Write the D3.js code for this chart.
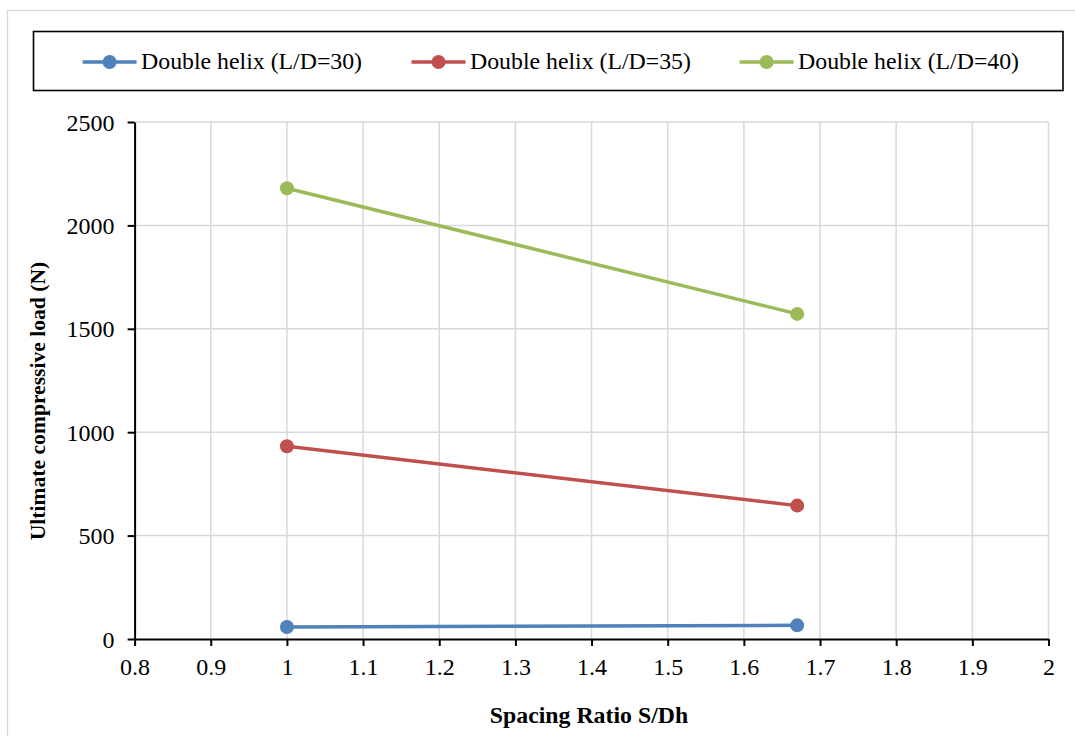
<!DOCTYPE html>
<html><head><meta charset="utf-8">
<script src="https://cdn.jsdelivr.net/npm/d3@7"></script>
<style>body{margin:0;background:#fff}svg{display:block}text{font-family:"Liberation Serif","Times New Roman",serif;fill:#000}</style>
</head><body>
<script>
const xValues = [1, 1.67];
const seriesNames = ["Double helix (L/D=30)", "Double helix (L/D=35)", "Double helix (L/D=40)"];
const seriesColors = ["#4F81BD", "#C0504D", "#9BBB59"];
const ld30 = [58, 66];
const ld35 = [932, 645];
const ld40 = [2180, 1572];
const xTicks = [0.8, 0.9, 1, 1.1, 1.2, 1.3, 1.4, 1.5, 1.6, 1.7, 1.8, 1.9, 2];
const yTicks = [0, 500, 1000, 1500, 2000, 2500];
const seriesValues = [ld30, ld35, ld40];

const W = 1075, H = 736;
const svg = d3.select("body").append("svg").attr("width", W).attr("height", H);
svg.append("rect").attr("x", 7.5).attr("y", 10.5).attr("width", W + 10).attr("height", H + 10)
  .attr("fill", "#fff").attr("stroke", "#d9d9d9").attr("stroke-width", 1.3);

const L = 134.6, R = 1048.5, T = 122, B = 639;
const x = d3.scaleLinear().domain([0.8, 2]).range([L, R]);
const y = d3.scaleLinear().domain([0, 2500]).range([B, T]);

// gridlines
const g = svg.append("g");
g.selectAll(".vg").data(xTicks.slice(1)).enter().append("line")
  .attr("x1", d => x(d)).attr("x2", d => x(d)).attr("y1", T).attr("y2", B)
  .attr("stroke", "#d9d9d9").attr("stroke-width", 1.5);
g.selectAll(".hg").data(yTicks.slice(1)).enter().append("line")
  .attr("x1", L).attr("x2", R).attr("y1", d => y(d)).attr("y2", d => y(d))
  .attr("stroke", "#d9d9d9").attr("stroke-width", 1.5);

// axes
const xAxis = svg.append("g").attr("transform", `translate(0,${B})`)
  .call(d3.axisBottom(x).tickValues(xTicks).tickFormat(d => String(+d.toFixed(1))).tickSize(7).tickSizeOuter(0));
const yAxis = svg.append("g").attr("transform", `translate(${L},0)`)
  .call(d3.axisLeft(y).tickValues(yTicks).tickFormat(d3.format("d")).tickSize(7).tickSizeOuter(0));
[xAxis, yAxis].forEach(a => {
  a.attr("font-family", null).attr("font-size", null);
  a.select(".domain").attr("stroke", "#000").attr("stroke-width", 2);
  a.selectAll(".tick line").attr("stroke", "#000").attr("stroke-width", 2);
  a.selectAll(".tick text").style("font-size", "24px").attr("fill", "#000");
});
xAxis.selectAll(".tick text").attr("dy", null).attr("y", 36);
yAxis.selectAll(".tick text").attr("x", -20).attr("dy", "0.34em");

// series
const line = d3.line().x((d, i) => x(xValues[i])).y(d => y(d));
seriesValues.forEach((vals, si) => {
  svg.append("path").datum(vals).attr("d", line).attr("fill", "none")
    .attr("stroke", seriesColors[si]).attr("stroke-width", 3.5);
  svg.selectAll(".pt" + si).data(vals).enter().append("circle")
    .attr("cx", (d, i) => x(xValues[i])).attr("cy", d => y(d)).attr("r", 7)
    .attr("fill", seriesColors[si]);
});

// axis titles
svg.append("text").attr("x", 589).attr("y", 723).attr("text-anchor", "middle")
  .attr("font-weight", "bold").style("font-size", "23.8px").text("Spacing Ratio S/Dh");
svg.append("text").attr("transform", `translate(45,401) rotate(-90)`).attr("text-anchor", "middle")
  .attr("font-weight", "bold").style("font-size", "21.6px").text("Ultimate compressive load (N)");

// legend
svg.append("rect").attr("x", 33.5).attr("y", 31.5).attr("width", 1029.5).attr("height", 59)
  .attr("fill", "#fff").attr("stroke", "#000").attr("stroke-width", 1.6);
const legX = [82.6, 411.5, 739.6];
seriesNames.forEach((name, si) => {
  const lg = svg.append("g").attr("transform", `translate(${legX[si]},62)`);
  lg.append("line").attr("x1", 0).attr("x2", 54).attr("y1", 0).attr("y2", 0)
    .attr("stroke", seriesColors[si]).attr("stroke-width", 3.5);
  lg.append("circle").attr("cx", 27).attr("cy", 0).attr("r", 7).attr("fill", seriesColors[si]);
  lg.append("text").attr("x", 58.5).attr("y", 6.5).style("font-size", "23.8px").text(name);
});
</script>
</body></html>
